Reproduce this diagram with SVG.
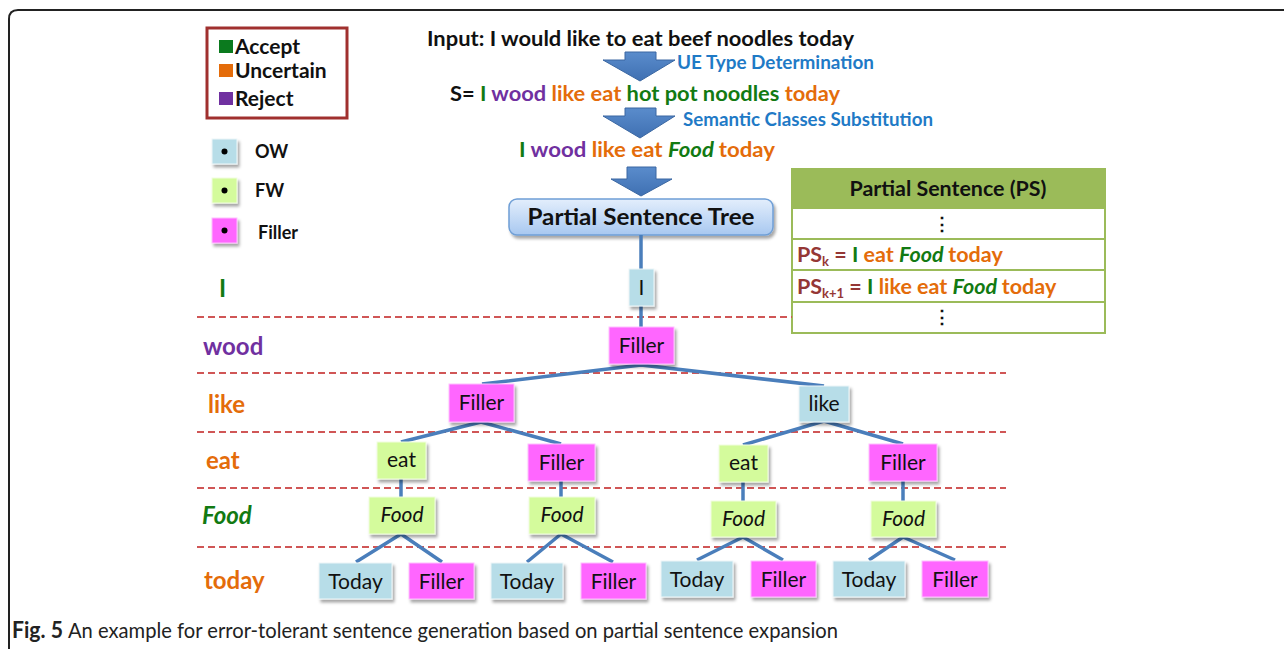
<svg xmlns="http://www.w3.org/2000/svg" width="1284" height="649" viewBox="0 0 1284 649">
  <defs>
    <filter id="shadow" x="-20%" y="-20%" width="150%" height="160%">
      <feDropShadow dx="2" dy="3" stdDeviation="1.6" flood-color="#000" flood-opacity="0.35"/>
    </filter>
    <linearGradient id="treeFill" x1="0" y1="0" x2="0" y2="1">
      <stop offset="0" stop-color="#e3eefc"/>
      <stop offset="1" stop-color="#a8c8f0"/>
    </linearGradient>
    <linearGradient id="arrowFill" x1="0" y1="0" x2="0" y2="1">
      <stop offset="0" stop-color="#5a8ccc"/>
      <stop offset="1" stop-color="#3f70b2"/>
    </linearGradient>
    <style>
      text { font-family: Lato, "Open Sans", "Liberation Sans", sans-serif; }
      .b { font-weight: bold; }
      .it { font-style: italic; }
      .g { fill: #127a12; }
      .o { fill: #e46c0a; }
      .p { fill: #7030a0; }
      .r { fill: #953735; }
      .k { fill: #111; }
      .blue { fill: #1f7ac6; }
      .ow { fill: #b7dde8; stroke: #eef6f8; stroke-width: 1; filter: url(#shadow); }
      .fw { fill: #d4fb9c; stroke: #f1fde0; stroke-width: 1; filter: url(#shadow); }
      .fl { fill: #ff66ff; stroke: #ffc0ff; stroke-width: 1; filter: url(#shadow); }
      .nt { font-size: 21px; fill: #111; text-anchor: middle; }
      .row { font-size: 24px; font-weight: bold; }
      .dash { stroke: #d05656; stroke-width: 2; stroke-dasharray: 7 4; fill: none; }
      .conn { stroke: #4a7ebb; stroke-width: 3.5; fill: none; stroke-linejoin: round; }
      .arrow { fill: url(#arrowFill); stroke: #3a67a2; stroke-width: 1; }
      .ps { fill: #fff; stroke: #9bbb59; stroke-width: 2; }
    </style>
  </defs>

  <!-- outer frame -->
  <path d="M9,649 L9,19 Q9,10 18,10 L1284,10" fill="none" stroke="#222" stroke-width="2"/>

  <!-- legend: word status colours -->
  <g id="legend-status">
    <rect x="207" y="28" width="140" height="90" fill="#fff" stroke="#a0302e" stroke-width="3"/>
    <rect x="219" y="40" width="14" height="13" fill="#0b7a1e"/>
    <text x="235" y="54" class="b k" font-size="21">Accept</text>
    <rect x="219" y="64" width="14" height="13" fill="#e46c0a"/>
    <text x="235" y="78" class="b k" font-size="21">Uncertain</text>
    <rect x="219" y="92" width="14" height="13" fill="#7030a0"/>
    <text x="235" y="106" class="b k" font-size="21">Reject</text>
  </g>

  <!-- legend: node kinds -->
  <g id="legend-nodes">
    <rect x="212" y="139" width="25" height="25" class="ow"/>
    <circle cx="224.5" cy="151.5" r="3" fill="#000"/>
    <text x="255" y="158" class="b k" font-size="18">OW</text>
    <rect x="212" y="178" width="25" height="25" class="fw"/>
    <circle cx="224.5" cy="190.5" r="3" fill="#000"/>
    <text x="255" y="197" class="b k" font-size="18">FW</text>
    <rect x="212" y="218" width="25" height="25" class="fl"/>
    <circle cx="224.5" cy="230.5" r="3" fill="#000"/>
    <text x="258" y="239" class="b k" font-size="18">Filler</text>
  </g>

  <!-- processing pipeline -->
  <g id="pipeline">
    <text x="427" y="46" class="b k" font-size="20" textLength="427" lengthAdjust="spacingAndGlyphs">Input: I would like to eat beef noodles today</text>
    <polygon class="arrow" points="625,52 656,52 656,60 675,60 640,81 603,60 625,60"/>
    <text x="677" y="69" class="b blue" font-size="18" textLength="197" lengthAdjust="spacingAndGlyphs">UE Type Determination</text>
    <text x="450" y="101" class="b" font-size="20" textLength="390" lengthAdjust="spacingAndGlyphs"><tspan class="k">S= </tspan><tspan class="g">I </tspan><tspan class="p">wood </tspan><tspan class="o">like eat </tspan><tspan class="g">hot pot noodles </tspan><tspan class="o">today</tspan></text>
    <polygon class="arrow" points="625,108 656,108 656,116 675,116 640,138 603,116 625,116"/>
    <text x="683" y="126" class="b blue" font-size="18" textLength="250" lengthAdjust="spacingAndGlyphs">Semantic Classes Substitution</text>
    <text x="519" y="157" class="b" font-size="20" textLength="256" lengthAdjust="spacingAndGlyphs"><tspan class="g">I </tspan><tspan class="p">wood </tspan><tspan class="o">like eat </tspan><tspan class="g it">Food </tspan><tspan class="o">today</tspan></text>
    <polygon class="arrow" points="627,167 656,167 656,179 672,179 641,196 611,179 627,179"/>
  </g>

  <!-- tree root box -->
  <g id="tree-root">
    <rect x="509" y="199" width="264" height="36" rx="8" fill="url(#treeFill)" stroke="#6f9fd6" stroke-width="1.5" filter="url(#shadow)"/>
    <text x="641" y="225" class="b k" font-size="22" text-anchor="middle" textLength="227" lengthAdjust="spacingAndGlyphs">Partial Sentence Tree</text>
  </g>

  <!-- partial sentence table -->
  <g id="ps-table">
    <rect x="792" y="169" width="313" height="39" fill="#9bbb59" stroke="#9bbb59" stroke-width="2"/>
    <rect x="792" y="208" width="313" height="31" class="ps"/>
    <rect x="792" y="239" width="313" height="31" class="ps"/>
    <rect x="792" y="270" width="313" height="32" class="ps"/>
    <rect x="792" y="302" width="313" height="31" class="ps"/>
    <text x="948" y="196" class="b k" font-size="20" text-anchor="middle" textLength="197" lengthAdjust="spacingAndGlyphs">Partial Sentence (PS)</text>
    <text x="942" y="230" class="b k" font-size="18" text-anchor="middle">⋮</text>
    <text x="797" y="262" class="b" font-size="21.5"><tspan class="r">PS</tspan><tspan class="r" font-size="13" dy="4">k</tspan><tspan class="r" dy="-4"> = </tspan><tspan class="g">I </tspan><tspan class="o">eat </tspan><tspan class="g it">Food </tspan><tspan class="o">today</tspan></text>
    <text x="797" y="294" class="b" font-size="21.5"><tspan class="r">PS</tspan><tspan class="r" font-size="13" dy="4">k+1</tspan><tspan class="r" dy="-4"> = </tspan><tspan class="g">I </tspan><tspan class="o">like eat </tspan><tspan class="g it">Food </tspan><tspan class="o">today</tspan></text>
    <text x="942" y="323" class="b k" font-size="18" text-anchor="middle">⋮</text>
  </g>

  <!-- level separators -->
  <g id="separators">
    <line class="dash" x1="197" y1="317" x2="792" y2="317"/>
    <line class="dash" x1="197" y1="373" x2="1006" y2="373"/>
    <line class="dash" x1="197" y1="432" x2="1006" y2="432"/>
    <line class="dash" x1="197" y1="488" x2="1006" y2="488"/>
    <line class="dash" x1="197" y1="547" x2="1006" y2="547"/>
  </g>

  <!-- level labels -->
  <g id="level-labels">
    <text x="219" y="297" class="row g">I</text>
    <text x="203" y="355" class="row p">wood</text>
    <text x="208" y="413" class="row o">like</text>
    <text x="206" y="469" class="row o">eat</text>
    <text x="202" y="524" class="row g it">Food</text>
    <text x="204" y="589" class="row o">today</text>
  </g>

  <!-- connectors -->
  <g id="connectors">
    <line class="conn" x1="641" y1="235" x2="641" y2="270"/>
    <line class="conn" x1="641" y1="306" x2="641" y2="327"/>
    <polyline class="conn" points="482,384 641,365 824,386"/>
    <polyline class="conn" points="401,442 481,422 561,444"/>
    <polyline class="conn" points="743,445 824,421 903,444"/>
    <line class="conn" x1="401" y1="479" x2="401" y2="497"/>
    <line class="conn" x1="561" y1="481" x2="561" y2="497"/>
    <line class="conn" x1="743" y1="482" x2="743" y2="501"/>
    <line class="conn" x1="903" y1="481" x2="903" y2="501"/>
    <polyline class="conn" points="356,562 401,534 442,562"/>
    <polyline class="conn" points="527,562 561,534 613,562"/>
    <polyline class="conn" points="697,560 743,537 783,560"/>
    <polyline class="conn" points="869,560 903,537 955,560"/>
  </g>

  <!-- tree nodes -->
  <g id="n-I"><rect x="629" y="269" width="25" height="37" class="ow"/><text x="641.5" y="295" class="nt">I</text></g>
  <g id="n-wood-filler"><rect x="609" y="327" width="65" height="37" class="fl"/><text x="641.5" y="353" class="nt">Filler</text></g>

  <g id="n-like-filler"><rect x="449" y="384" width="65" height="38" class="fl"/><text x="481.5" y="410" class="nt">Filler</text></g>
  <g id="n-like"><rect x="799" y="386" width="50" height="36" class="ow"/><text x="824" y="411" class="nt">like</text></g>

  <g id="n-eat-1"><rect x="377" y="442" width="49" height="37" class="fw"/><text x="401.5" y="467" class="nt">eat</text></g>
  <g id="n-eat-filler-1"><rect x="528" y="444" width="67" height="37" class="fl"/><text x="561.5" y="470" class="nt">Filler</text></g>
  <g id="n-eat-2"><rect x="719" y="445" width="49" height="37" class="fw"/><text x="743.5" y="470" class="nt">eat</text></g>
  <g id="n-eat-filler-2"><rect x="869" y="444" width="68" height="37" class="fl"/><text x="903" y="470" class="nt">Filler</text></g>

  <g id="n-food-1"><rect x="369" y="497" width="66" height="37" class="fw"/><text x="402" y="522" class="nt it">Food</text></g>
  <g id="n-food-2"><rect x="529" y="497" width="66" height="37" class="fw"/><text x="562" y="522" class="nt it">Food</text></g>
  <g id="n-food-3"><rect x="711" y="501" width="65" height="36" class="fw"/><text x="743.5" y="526" class="nt it">Food</text></g>
  <g id="n-food-4"><rect x="871" y="501" width="65" height="36" class="fw"/><text x="903.5" y="526" class="nt it">Food</text></g>

  <g id="n-today-1"><rect x="319" y="563" width="73" height="36" class="ow"/><text x="355.5" y="589" class="nt">Today</text></g>
  <g id="n-filler-1"><rect x="409" y="563" width="65" height="36" class="fl"/><text x="441.5" y="589" class="nt">Filler</text></g>
  <g id="n-today-2"><rect x="491" y="563" width="72" height="36" class="ow"/><text x="527" y="589" class="nt">Today</text></g>
  <g id="n-filler-2"><rect x="581" y="563" width="65" height="36" class="fl"/><text x="613.5" y="589" class="nt">Filler</text></g>
  <g id="n-today-3"><rect x="661" y="561" width="72" height="36" class="ow"/><text x="697" y="587" class="nt">Today</text></g>
  <g id="n-filler-3"><rect x="751" y="561" width="65" height="36" class="fl"/><text x="783.5" y="587" class="nt">Filler</text></g>
  <g id="n-today-4"><rect x="833" y="561" width="72" height="36" class="ow"/><text x="869" y="587" class="nt">Today</text></g>
  <g id="n-filler-4"><rect x="922" y="561" width="66" height="36" class="fl"/><text x="955" y="587" class="nt">Filler</text></g>

  <!-- caption -->
  <g id="caption">
    <text x="12" y="638" class="b" font-size="22" fill="#222" textLength="51" lengthAdjust="spacingAndGlyphs">Fig. 5</text>
    <text x="68" y="638" font-size="22" fill="#222" textLength="770" lengthAdjust="spacingAndGlyphs">An example for error-tolerant sentence generation based on partial sentence expansion</text>
  </g>
</svg>
